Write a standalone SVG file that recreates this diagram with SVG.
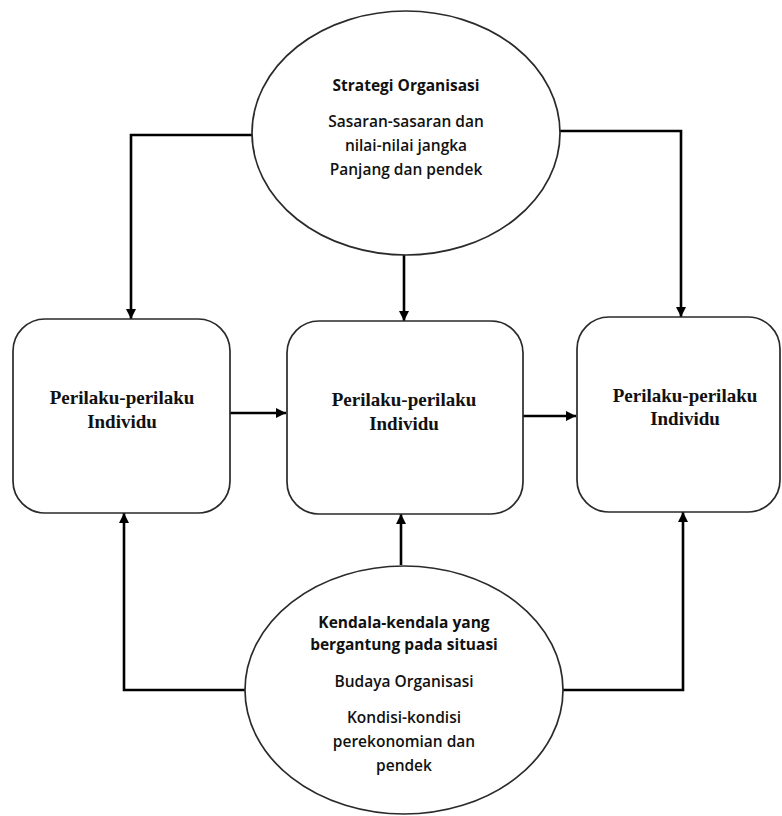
<svg xmlns="http://www.w3.org/2000/svg" width="782" height="816" viewBox="0 0 782 816">
<defs>
<marker id="ah" viewBox="0 0 10 10" refX="10" refY="5" markerWidth="4" markerHeight="4" orient="auto" markerUnits="strokeWidth">
<path d="M0,0 L10,5 L0,10 Z" fill="#000"/>
</marker>
<style>
.shape{fill:#fff;stroke:#2a2a2a;stroke-width:1.7}
.con{fill:none;stroke:#000;stroke-width:2.6;marker-end:url(#ah)}
.box{font-family:"Liberation Serif",serif;font-size:19px;font-weight:700;text-anchor:middle;fill:#111}
.ell{font-family:"Open Sans","Liberation Sans",sans-serif;font-size:15.5px;text-anchor:middle;fill:#111;font-weight:600}
.b{font-weight:700}
</style>
</defs>
<rect width="782" height="816" fill="#fff"/>
<g id="connectors">
<path class="con" d="M253,135 H131 V319"/>
<path class="con" d="M559,131 H681 V317"/>
<path class="con" d="M404,255 V321"/>
<path class="con" d="M230,413 H286"/>
<path class="con" d="M523,416 H576"/>
<path class="con" d="M401,565 V514"/>
<path class="con" d="M246,690 H124 V513"/>
<path class="con" d="M562,690 H683 V512"/>
</g>
<g id="strategi">
<ellipse class="shape" cx="406" cy="133" rx="154" ry="122"/>
<text class="ell b" x="406" y="91">Strategi Organisasi</text>
<text class="ell" x="406" y="127">Sasaran-sasaran dan</text>
<text class="ell" x="406" y="151">nilai-nilai jangka</text>
<text class="ell" x="406" y="175">Panjang dan pendek</text>
</g>
<g id="perilaku1">
<rect class="shape" x="13" y="319" width="217" height="194" rx="32" ry="32"/>
<text class="box" x="122" y="404">Perilaku-perilaku</text>
<text class="box" x="122" y="428">Individu</text>
</g>
<g id="perilaku2">
<rect class="shape" x="287" y="321" width="236" height="193" rx="32" ry="32"/>
<text class="box" x="404" y="406">Perilaku-perilaku</text>
<text class="box" x="404" y="430">Individu</text>
</g>
<g id="perilaku3">
<rect class="shape" x="577" y="317" width="203" height="195" rx="32" ry="32"/>
<text class="box" x="685" y="402">Perilaku-perilaku</text>
<text class="box" x="685" y="425">Individu</text>
</g>
<g id="kendala">
<ellipse class="shape" cx="404" cy="690" rx="159" ry="124"/>
<text class="ell b" x="404" y="628">Kendala-kendala yang</text>
<text class="ell b" x="404" y="650">bergantung pada situasi</text>
<text class="ell" x="404" y="687">Budaya Organisasi</text>
<text class="ell" x="404" y="723">Kondisi-kondisi</text>
<text class="ell" x="404" y="747">perekonomian dan</text>
<text class="ell" x="404" y="771">pendek</text>
</g>
</svg>
